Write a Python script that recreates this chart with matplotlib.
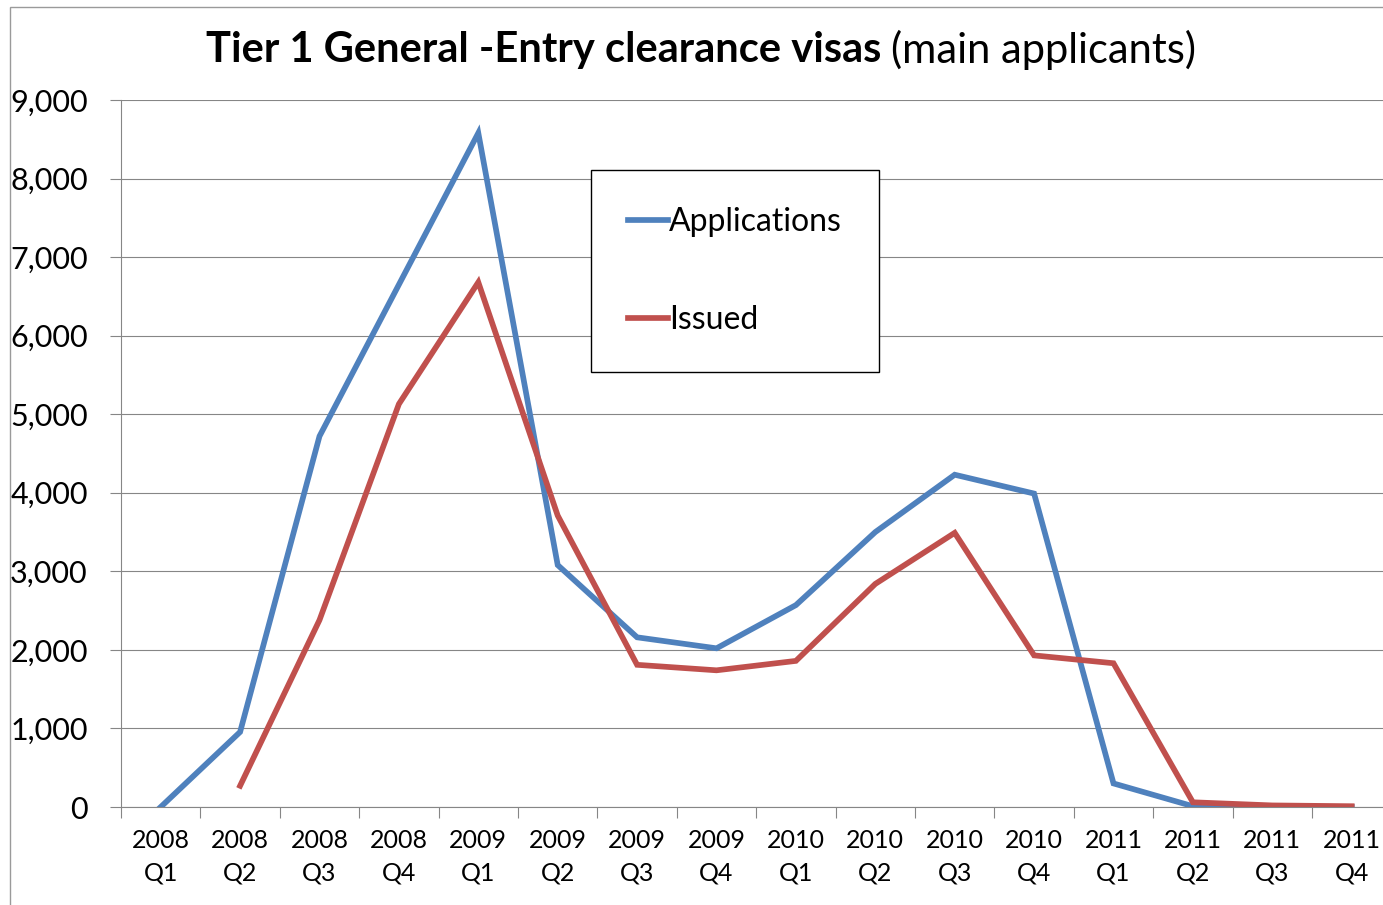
import matplotlib.pyplot as plt
from matplotlib.patches import Rectangle
from matplotlib.ticker import FuncFormatter, FixedLocator

plt.rcParams['font.family'] = ['Lato', 'DejaVu Sans']

# data
quarters = ["2008\nQ1", "2008\nQ2", "2008\nQ3", "2008\nQ4",
            "2009\nQ1", "2009\nQ2", "2009\nQ3", "2009\nQ4",
            "2010\nQ1", "2010\nQ2", "2010\nQ3", "2010\nQ4",
            "2011\nQ1", "2011\nQ2", "2011\nQ3", "2011\nQ4"]
applications = [0, 955, 4720, 6650, 8580, 3080, 2160, 2020,
                2570, 3500, 4230, 3990, 300, 10, 5, 0]
issued = [None, 270, 2380, 5130, 6680, 3710, 1810, 1740,
          1860, 2840, 3490, 1930, 1830, 60, 20, 10]

BLUE = "#4F81BD"
RED = "#C0504D"
GRID = "#868686"

W, H = 1383, 905
fig = plt.figure(figsize=(W / 100, H / 100), dpi=100)

# outer chart border
fig.patches.append(Rectangle((10 / W, -0.1), 1.2, 1.1 - 7 / H, transform=fig.transFigure,
                             fill=False, edgecolor="#9a9a9a", linewidth=1.0))

ax = fig.add_axes([121 / W, 1 - 807 / H, 16 * 79.4 / W, (807 - 100) / H])

x = list(range(len(quarters)))
iss_x = [i for i, v in zip(x, issued) if v is not None]
iss_y = [v for v in issued if v is not None]
ax.plot(x, applications, color=BLUE, lw=4.1, solid_joinstyle="miter", label="Applications", zorder=3)
ax.plot(iss_x, iss_y, color=RED, lw=4.1, solid_joinstyle="miter", label="Issued", zorder=3)

ax.set_xlim(-0.5, len(quarters) - 0.5)
ax.set_ylim(0, 9000)
ax.set_yticks(range(0, 9001, 1000))
ax.yaxis.set_major_formatter(FuncFormatter(lambda v, p: f"{int(v):,}"))
ax.yaxis.grid(True, color=GRID, linewidth=0.8)
ax.set_axisbelow(True)

# category boundaries get tick marks, labels sit in the middle
ax.xaxis.set_major_locator(FixedLocator([i - 0.5 for i in range(len(quarters) + 1)]))
ax.xaxis.set_major_formatter(FuncFormatter(lambda v, p: ""))
ax.xaxis.set_minor_locator(FixedLocator(x))
ax.set_xticklabels(quarters, minor=True)
ax.tick_params(axis="x", which="major", length=8, width=0.8, color=GRID, direction="out")
ax.tick_params(axis="x", which="minor", length=0, pad=16, labelsize=18, labelcolor="black")
ax.tick_params(axis="y", length=8, width=0.8, color=GRID, labelsize=22, pad=16)
for lbl in ax.get_xticklabels(minor=True):
    lbl.set_linespacing(1.5)

for s in ["top", "right"]:
    ax.spines[s].set_visible(False)
for s in ["left", "bottom"]:
    ax.spines[s].set_color(GRID)
    ax.spines[s].set_linewidth(0.8)

leg = ax.legend(loc="upper left", bbox_to_anchor=(591 / W, 1 - 170 / H), bbox_transform=fig.transFigure,
                fontsize=23, frameon=True, fancybox=False, edgecolor="black", framealpha=1,
                handlelength=1.25, handletextpad=0.05, labelspacing=2.15, borderpad=1.15,
                borderaxespad=0)
leg.get_frame().set_linewidth(1.0)

# title: bold part + regular part, centred together
fig.canvas.draw()
r = fig.canvas.get_renderer()
t1 = fig.text(0, 1 - 50 / H, "Tier 1 General -Entry clearance visas ", fontsize=30,
              fontweight="bold", va="center", ha="left")
t2 = fig.text(0, 1 - 50 / H, "(main applicants)", fontsize=30, va="center", ha="left")
w1 = t1.get_window_extent(r).width
w2 = t2.get_window_extent(r).width
start = 701 - (w1 + w2) / 2
t1.set_x(start / W)
t2.set_x((start + w1) / W)

fig.savefig("out.png", dpi=100)
